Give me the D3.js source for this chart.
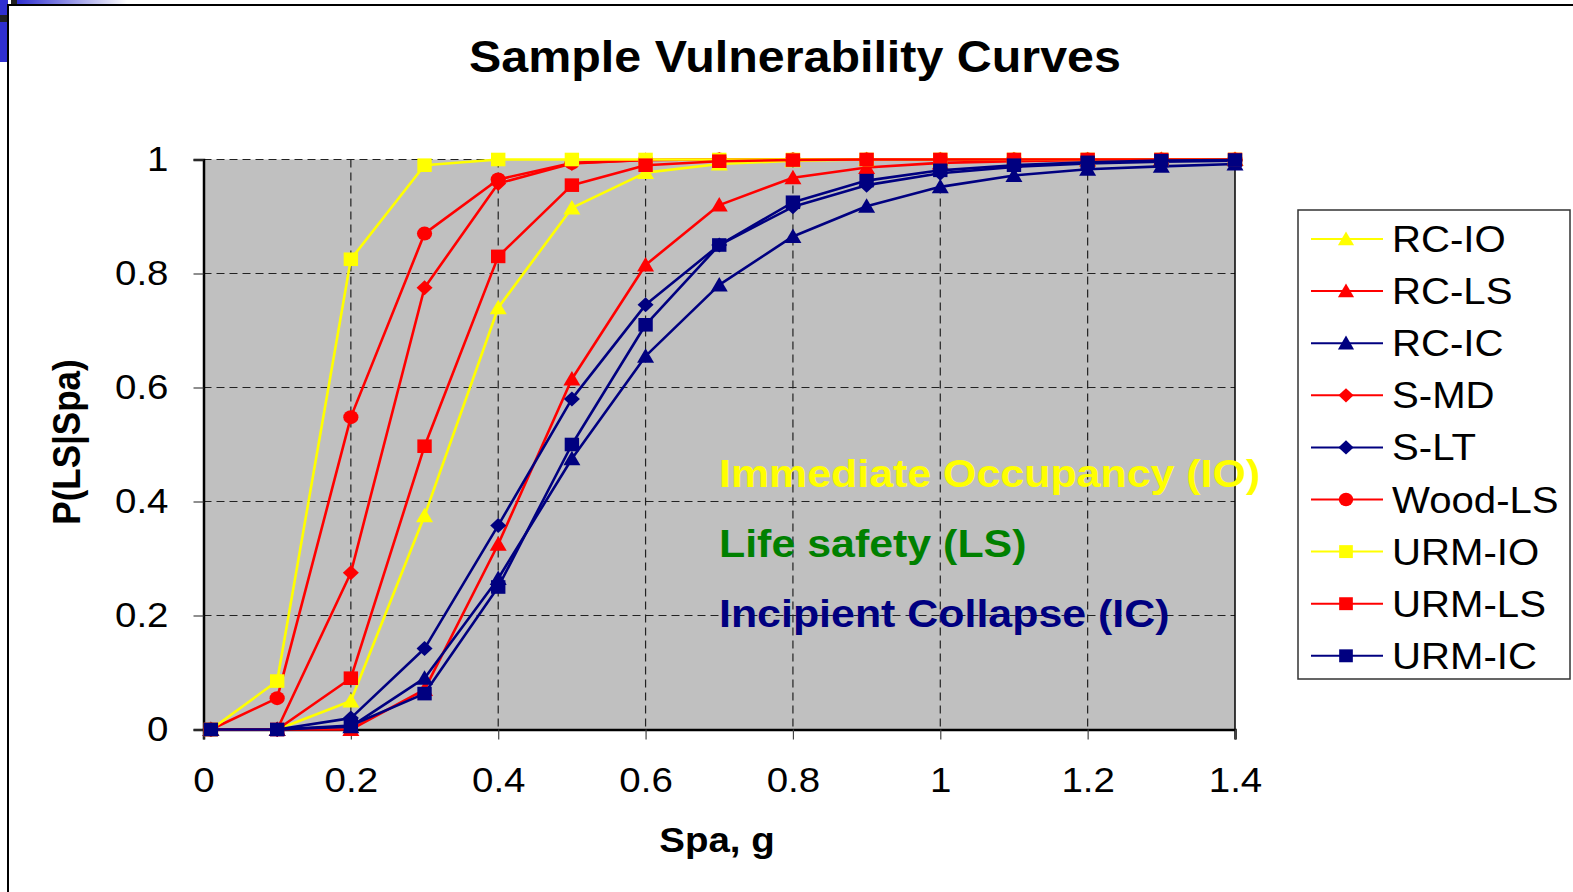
<!DOCTYPE html>
<html>
<head>
<meta charset="utf-8">
<script src="https://cdn.jsdelivr.net/npm/d3@7"></script>
<style>
  html, body { margin: 0; padding: 0; background: #fff; }
  svg { display: block; }
</style>
</head>
<body>
<svg id="chart" width="1573" height="892"></svg>
<script>
// Spectral acceleration values (g) at which each curve is evaluated
const xValues = [0.01, 0.1, 0.2, 0.3, 0.4, 0.5, 0.6, 0.7, 0.8, 0.9, 1.0, 1.1, 1.2, 1.3, 1.4];

// Probability of exceeding each limit state, P(LS|Spa)
const rcIO   = [0, 0, 0.05, 0.375, 0.74, 0.915, 0.977, 0.992, 0.998, 1, 1, 1, 1, 1, 1];
const rcLS   = [0, 0, 0.0, 0.07, 0.325, 0.615, 0.815, 0.92, 0.968, 0.986, 0.994, 0.997, 0.999, 1, 1];
const rcIC   = [0, 0, 0.005, 0.09, 0.265, 0.475, 0.655, 0.78, 0.865, 0.918, 0.952, 0.972, 0.983, 0.988, 0.992];
const sMD    = [0, 0, 0.275, 0.775, 0.958, 0.993, 0.999, 1, 1, 1, 1, 1, 1, 1, 1];
const sLT    = [0, 0, 0.02, 0.142, 0.358, 0.58, 0.745, 0.85, 0.917, 0.955, 0.976, 0.987, 0.993, 0.996, 0.998];
const woodLS = [0, 0.055, 0.548, 0.87, 0.965, 0.994, 0.999, 1, 1, 1, 1, 1, 1, 1, 1];
const urmIO  = [0, 0.085, 0.825, 0.99, 1, 1, 1, 1, 1, 1, 1, 1, 1, 1, 1];
const urmLS  = [0, 0, 0.09, 0.497, 0.83, 0.955, 0.99, 0.997, 0.999, 1, 1, 1, 1, 1, 1];
const urmIC  = [0, 0, 0.007, 0.063, 0.25, 0.5, 0.71, 0.85, 0.925, 0.963, 0.981, 0.99, 0.995, 0.998, 0.999];

const seriesNames   = ["RC-IO", "RC-LS", "RC-IC", "S-MD", "S-LT", "Wood-LS", "URM-IO", "URM-LS", "URM-IC"];
const seriesValues  = [rcIO, rcLS, rcIC, sMD, sLT, woodLS, urmIO, urmLS, urmIC];
const seriesColors  = ["#ffff00", "#ff0000", "#000080", "#ff0000", "#000080", "#ff0000", "#ffff00", "#ff0000", "#000080"];
const seriesSymbols = ["triangle", "triangle", "triangle", "diamond", "diamond", "circle", "square", "square", "square"];

const xTicks = [0, 0.2, 0.4, 0.6, 0.8, 1.0, 1.2, 1.4];
const xTickLabels = ["0", "0.2", "0.4", "0.6", "0.8", "1", "1.2", "1.4"];
const yTicks = [0, 0.2, 0.4, 0.6, 0.8, 1.0];
const yTickLabels = ["0", "0.2", "0.4", "0.6", "0.8", "1"];

const zoneLabels = ["Immediate Occupancy (IO)", "Life safety (LS)", "Incipient Collapse (IC)"];
const zoneColors = ["#ffff00", "#008000", "#000080"];

const FONT = "'Liberation Sans', Arial, Helvetica, sans-serif";
const STRETCH = 1.1;

const svg = d3.select("#chart");

// Widen text horizontally, as in the original slide
function stretch(sel, k = STRETCH) {
  sel.each(function () {
    const len = this.getComputedTextLength();
    d3.select(this).attr("textLength", len * k).attr("lengthAdjust", "spacingAndGlyphs");
  });
  return sel;
}

// Slide decoration in the upper-left corner
const defs = svg.append("defs");
const grad = defs.append("linearGradient").attr("id", "topbar");
grad.append("stop").attr("offset", "0%").attr("stop-color", "#2f2fd0");
grad.append("stop").attr("offset", "100%").attr("stop-color", "#ffffff");
svg.append("rect").attr("x", 0).attr("y", 0).attr("width", 8).attr("height", 62).attr("fill", "#2f2fd0");
svg.append("rect").attr("x", 0).attr("y", 15).attr("width", 8).attr("height", 7).attr("fill", "#222");
svg.append("rect").attr("x", 11).attr("y", 0).attr("width", 6).attr("height", 5).attr("fill", "#222");
svg.append("rect").attr("x", 17).attr("y", 0).attr("width", 110).attr("height", 4).attr("fill", "url(#topbar)");
svg.append("path").attr("d", "M8,892V5H1573").attr("fill", "none").attr("stroke", "#000").attr("stroke-width", 2);

// Plot area
const plotLeft = 203.5, plotRight = 1235, plotTop = 159.5, plotBottom = 729.5;
const x = d3.scaleLinear().domain([0, 1.4]).range([plotLeft, plotRight]);
const y = d3.scaleLinear().domain([0, 1]).range([plotBottom, plotTop]);

svg.append("rect")
  .attr("x", plotLeft).attr("y", plotTop)
  .attr("width", plotRight - plotLeft).attr("height", plotBottom - plotTop)
  .attr("fill", "#c0c0c0");

// Dashed grid
const grid = svg.append("g").attr("stroke", "#222").attr("stroke-width", 1.2).attr("stroke-dasharray", "8,5");
grid.selectAll("line.h").data(yTicks.filter(d => d > 0)).join("line")
  .attr("class", "h")
  .attr("x1", plotLeft).attr("x2", plotRight)
  .attr("y1", d => y(d)).attr("y2", d => y(d));
grid.selectAll("line.v").data(xTicks.filter(d => d > 0 && d < 1.4)).join("line")
  .attr("class", "v")
  .attr("x1", d => x(d)).attr("x2", d => x(d))
  .attr("y1", plotTop).attr("y2", plotBottom);

// Right edge of plot area
svg.append("line").attr("x1", plotRight).attr("x2", plotRight).attr("y1", plotTop).attr("y2", plotBottom)
  .attr("stroke", "#000").attr("stroke-width", 1.5);

// Axes
const xAxis = d3.axisBottom(x).tickValues(xTicks).tickSize(10).tickPadding(28)
  .tickFormat((d, i) => xTickLabels[i]);
const yAxis = d3.axisLeft(y).tickValues(yTicks).tickSize(10).tickPadding(25)
  .tickFormat((d, i) => yTickLabels[i]);

const gx = svg.append("g").attr("transform", `translate(0,${plotBottom})`).call(xAxis);
const gy = svg.append("g").attr("transform", `translate(${plotLeft},0)`).call(yAxis);
[gx, gy].forEach(g => {
  g.select(".domain").attr("stroke", "#000").attr("stroke-width", 2.5);
  g.selectAll(".tick line").attr("stroke", "#444").attr("stroke-width", 1.2);
  g.selectAll(".tick text").attr("fill", "#000").style("font-family", FONT).style("font-size", "35px");
});
gx.selectAll(".tick text").attr("dy", "0.71em");
stretch(gx.selectAll(".tick text"));
stretch(gy.selectAll(".tick text"));

// Marker shapes
function markerPath(sym, s = 1) {
  switch (sym) {
    case "triangle": return `M0,${-8 * s}L${8.5 * s},${6.5 * s}L${-8.5 * s},${6.5 * s}Z`;
    case "diamond":  return `M0,${-7.5 * s}L${8 * s},0L0,${7.5 * s}L${-8 * s},0Z`;
    case "square":   return `M${-7.2 * s},${-6.8 * s}H${7.2 * s}V${6.8 * s}H${-7.2 * s}Z`;
    case "circle": {
      const rx = 7.6 * s, ry = 7 * s;
      return `M${-rx},0A${rx},${ry} 0 1,0 ${rx},0A${rx},${ry} 0 1,0 ${-rx},0Z`;
    }
  }
  return "";
}

// Curves and markers
const line = d3.line().x(d => x(d[0])).y(d => y(d[1]));
const curves = svg.append("g");
seriesNames.forEach((name, i) => {
  const pts = xValues.map((xv, j) => [xv, seriesValues[i][j]]);
  const g = curves.append("g");
  g.append("path").datum(pts)
    .attr("d", line)
    .attr("fill", "none")
    .attr("stroke", seriesColors[i])
    .attr("stroke-width", 2.6)
    .attr("stroke-linejoin", "round");
  g.selectAll("path.m").data(pts).join("path")
    .attr("class", "m")
    .attr("transform", d => `translate(${x(d[0])},${y(d[1])})`)
    .attr("d", markerPath(seriesSymbols[i]))
    .attr("fill", seriesColors[i]);
});

// Limit-state annotations
const zoneY = [487, 557, 627];
svg.append("g").selectAll("text").data(zoneLabels).join("text")
  .attr("x", 719)
  .attr("y", (d, i) => zoneY[i])
  .attr("fill", (d, i) => zoneColors[i])
  .style("font-family", FONT).style("font-weight", "bold").style("font-size", "39px")
  .text(d => d)
  .call(stretch);

// Title and axis titles
svg.append("text")
  .attr("x", 795).attr("y", 72).attr("text-anchor", "middle")
  .style("font-family", FONT).style("font-weight", "bold").style("font-size", "44px")
  .text("Sample Vulnerability Curves")
  .call(stretch);

svg.append("text")
  .attr("x", 717).attr("y", 852).attr("text-anchor", "middle")
  .style("font-family", FONT).style("font-weight", "bold").style("font-size", "35px")
  .text("Spa, g")
  .call(stretch);

svg.append("text")
  .attr("transform", "translate(80,442) scale(1.1,1) rotate(-90)")
  .attr("text-anchor", "middle")
  .style("font-family", FONT).style("font-weight", "bold").style("font-size", "35px")
  .text("P(LS|Spa)");

// Legend
const legend = svg.append("g");
legend.append("rect")
  .attr("x", 1298).attr("y", 210).attr("width", 272).attr("height", 469)
  .attr("fill", "#fff").attr("stroke", "#333").attr("stroke-width", 1.5);
const rowY = i => 239 + i * 52.1;
seriesNames.forEach((name, i) => {
  const row = legend.append("g").attr("transform", `translate(0,${rowY(i)})`);
  row.append("line").attr("x1", 1311).attr("x2", 1383).attr("y1", 0).attr("y2", 0)
    .attr("stroke", seriesColors[i]).attr("stroke-width", 2);
  row.append("path").attr("transform", "translate(1346,0)")
    .attr("d", markerPath(seriesSymbols[i], 0.95)).attr("fill", seriesColors[i]);
  row.append("text").attr("x", 1392).attr("y", 13)
    .style("font-family", FONT).style("font-size", "36.5px")
    .text(name)
    .call(stretch);
});
</script>
</body>
</html>
